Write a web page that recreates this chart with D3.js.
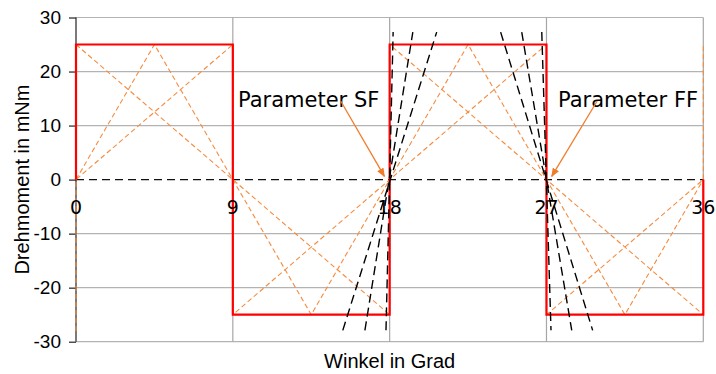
<!DOCTYPE html>
<html><head><meta charset="utf-8">
<script src="https://cdn.jsdelivr.net/npm/d3@7"></script>
<style>html,body{margin:0;padding:0;background:#fff;}svg{display:block;}</style>
</head><body>
<script>
const xTicks = [0, 9, 18, 27, 36];
const yTicks = [-30, -20, -10, 0, 10, 20, 30];
const squareWave = [[0,0],[0,25],[9,25],[9,-25],[18,-25],[18,25],[27,25],[27,-25],[36,-25],[36,0]];
const triangleWave = [[0,0],[4.5,25],[9,0],[13.5,-25],[18,0],[22.5,25],[27,0],[31.5,-25],[36,0]];
const risingRamp = [[0,-28],[0,0],[9,25],[9,-25],[18,0],[27,25],[27,-25],[36,0],[36,25]];
const fallingRamp = [[0,25],[9,0],[18,-25],[18,25],[27,0],[36,-25]];
const sfLines = [[[15.31,-27.9],[20.70,27.3]],[[16.58,-27.9],[19.33,27.3]],[[17.79,-27.9],[18.20,27.3]]];
const ffLines = [[[24.37,27.3],[29.65,-27.9]],[[25.58,27.3],[28.45,-27.9]],[[26.73,27.3],[27.26,-27.9]]];
const annotations = [
  {text:"Parameter SF", tx:238, from:[15.2,14.5], to:[17.7,0.6]},
  {text:"Parameter FF", tx:558, from:[29.9,14.5], to:[27.3,0.6]}
];

const W = 716, H = 374;
const svg = d3.select("body").append("svg").attr("width", W).attr("height", H);
const x = d3.scaleLinear().domain([0,36]).range([76,703.3]);
const y = d3.scaleLinear().domain([-30,30]).range([341.7,17.5]);
const line = d3.line().x(d=>x(d[0])).y(d=>y(d[1]));

const defs = svg.append("defs");
defs.append("marker").attr("id","arr").attr("viewBox","0 0 10 10").attr("refX",9).attr("refY",5)
  .attr("markerWidth",9).attr("markerHeight",9).attr("orient","auto").attr("markerUnits","userSpaceOnUse")
  .append("path").attr("d","M0,1 L10,5 L0,9 z").attr("fill","#f07d2c");

// gridlines
svg.append("g").selectAll("line").data(yTicks.filter(v=>v!==0)).join("line")
  .attr("x1",x(0)).attr("x2",x(36)).attr("y1",d=>y(d)).attr("y2",d=>y(d))
  .attr("stroke","#b3b3b3").attr("stroke-width",1.2);
svg.append("g").selectAll("line").data(xTicks.filter(v=>v!==0)).join("line")
  .attr("x1",d=>x(d)).attr("x2",d=>x(d)).attr("y1",y(30)).attr("y2",y(-30))
  .attr("stroke","#a6a6a6").attr("stroke-width",1.2);

// y axis
const yAxis = d3.axisLeft(y).tickValues(yTicks).tickSize(7).tickPadding(8).tickFormat(d=>String(d));
const ga = svg.append("g").attr("transform",`translate(${x(0)},0)`).call(yAxis);
ga.select(".domain").attr("stroke","#222").attr("stroke-width",1.2).attr("d",`M-0,${y(30)}V${y(-30)}`);
ga.selectAll(".tick line").attr("stroke","#222").attr("stroke-width",1.2);
ga.selectAll(".tick text").attr("font-family","'Liberation Sans', Arial, sans-serif").attr("font-size",19).attr("fill","#000");

// zero line
svg.append("line").attr("x1",x(0)).attr("x2",x(36)).attr("y1",y(0)).attr("y2",y(0))
  .attr("stroke","#111").attr("stroke-width",1.1).attr("stroke-dasharray","8,5");

// orange dashed series
[triangleWave, risingRamp, fallingRamp].forEach(s=>{
  svg.append("path").attr("d",line(s)).attr("fill","none").attr("stroke","#f58b3f")
    .attr("stroke-width",1.1).attr("stroke-dasharray","5,3");
});

// red square wave
svg.append("path").attr("d",line(squareWave)).attr("fill","none").attr("stroke","#ff0000").attr("stroke-width",2.2);

// black dashed lines
sfLines.concat(ffLines).forEach(s=>{
  svg.append("path").attr("d",line(s)).attr("fill","none").attr("stroke","#000")
    .attr("stroke-width",1.4).attr("stroke-dasharray","9,5");
});

// x tick labels
svg.append("g").selectAll("text").data(xTicks).join("text")
  .attr("x",d=>x(d)).attr("y",y(0)+34).attr("text-anchor","middle")
  .attr("font-family","'DejaVu Sans', Verdana, sans-serif").attr("font-size",19).attr("fill","#000")
  .text(d=>d);

// annotations
annotations.forEach(a=>{
  svg.append("text").attr("x",a.tx).attr("y",107).attr("font-family","'DejaVu Sans', Verdana, sans-serif")
    .attr("font-size",21).attr("fill","#000").text(a.text);
  svg.append("line").attr("x1",x(a.from[0])).attr("y1",y(a.from[1])).attr("x2",x(a.to[0])).attr("y2",y(a.to[1]))
    .attr("stroke","#f07d2c").attr("stroke-width",1.3).attr("marker-end","url(#arr)");
});

// axis titles
svg.append("text").attr("x",x(18)).attr("y",368).attr("text-anchor","middle")
  .attr("font-family","'Liberation Sans', Arial, sans-serif").attr("font-size",20).text("Winkel in Grad");
svg.append("text").attr("transform",`translate(29,${y(0)}) rotate(-90)`).attr("text-anchor","middle")
  .attr("font-family","'Liberation Sans', Arial, sans-serif").attr("font-size",20).text("Drehmoment in mNm");
</script>
</body></html>
